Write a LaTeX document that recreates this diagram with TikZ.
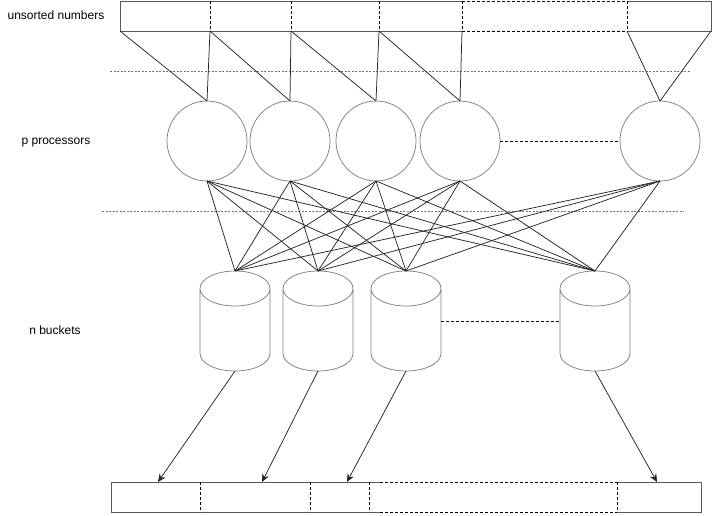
\documentclass[tikz,border=0pt]{standalone}
\usepackage{fontspec}
\setmainfont{Liberation Sans}
\usetikzlibrary{arrows.meta}

% cylinder outline round a bucket node
\newcommand{\drawbucket}[1]{%
  \draw[draw=black!50] ([yshift=-17.5pt]#1.north west) -- ([yshift=17.5pt]#1.south west)
    arc[start angle=180, end angle=360, x radius=35pt, y radius=17.5pt]
    -- ([yshift=-17.5pt]#1.north east)
    arc[start angle=0, end angle=360, x radius=35pt, y radius=17.5pt];}

\begin{document}
\begin{tikzpicture}[x=1pt, y=-1pt, line width=0.75pt,
    proc/.style={circle, draw=black!50, minimum size=80pt, inner sep=0pt, outer sep=0pt},
    bucket/.style={rectangle, minimum width=70pt, minimum height=100pt, inner sep=0pt, outer sep=0pt},
    barline/.style={draw=black!65},
    divider/.style={draw=black, dashed, dash pattern=on 3pt off 2pt},
    sep/.style={draw=black!55, line width=0.5pt, dash pattern=on 2pt off 1.5pt},
    wire/.style={draw=black!85},
    label/.style={font=\fontsize{12}{14}\selectfont, inner sep=0pt, text height=9pt, text depth=2.5pt}]
    \useasboundingbox (0,0) rectangle (712,515);

    % Labels
    \node[label] (Lnum) at (56,16) {unsorted numbers};
    \node[label] (Lproc) at (56,141) {p processors};
    \node[label] (Lbuck) at (55,331) {n buckets};

    % Input array
    \draw[barline] (462,1) -- (120,1) -- (120,31) -- (462,31);
    \draw[barline] (627,1) -- (711,1) -- (711,31) -- (627,31);
    \draw[divider] (462,1) -- (627,1);
    \draw[divider] (462,31) -- (627,31);
    \draw[divider] (210,1) -- (210,31);
    \draw[divider] (291,1) -- (291,31);
    \draw[divider] (379,1) -- (379,31);
    \draw[divider] (462,1) -- (462,31);
    \draw[divider] (627,1) -- (627,31);
    \coordinate (T0) at (120,31);
    \coordinate (T1) at (210,31);
    \coordinate (T2) at (291,31);
    \coordinate (T3) at (379,31);
    \coordinate (T4) at (462,31);
    \coordinate (T5) at (627,31);
    \coordinate (T6) at (711,31);

    % Separators
    \draw[sep] (110,71) -- (690,71);
    \draw[sep] (102,211) -- (684,211);

    % Processors
    \node[proc] (P1) at (207,141) {};
    \node[proc] (P2) at (290,141) {};
    \node[proc] (P3) at (376,141) {};
    \node[proc] (P4) at (460,141) {};
    \node[proc] (P5) at (660,141) {};
    \draw[divider] (P4.east) -- (P5.west);

    % Buckets
    \node[bucket] (B1) at (235,321) {};
    \node[bucket] (B2) at (318,321) {};
    \node[bucket] (B3) at (406,321) {};
    \node[bucket] (B4) at (595,321) {};
    \drawbucket{B1}
    \drawbucket{B2}
    \drawbucket{B3}
    \drawbucket{B4}
    \draw[divider] (B3.east) -- (B4.west);

    % Output array
    \draw[barline] (380,482) -- (111,482) -- (111,512) -- (380,512);
    \draw[barline] (617,482) -- (701,482) -- (701,512) -- (617,512);
    \draw[divider] (380,482) -- (617,482);
    \draw[divider] (380,512) -- (617,512);
    \draw[divider] (200,482) -- (200,512);
    \draw[divider] (310,482) -- (310,512);
    \draw[divider] (369,482) -- (369,512);
    \draw[divider] (617,482) -- (617,512);
    \coordinate (S1) at (158,482);
    \coordinate (S2) at (262,482);
    \coordinate (S3) at (347,482);
    \coordinate (S4) at (657,482);

    % Input to processors
    \draw[wire] (T0) -- (P1.north);
    \draw[wire] (T1) -- (P1.north);
    \draw[wire] (T1) -- (P2.north);
    \draw[wire] (T2) -- (P2.north);
    \draw[wire] (T2) -- (P3.north);
    \draw[wire] (T3) -- (P3.north);
    \draw[wire] (T3) -- (P4.north);
    \draw[wire] (T4) -- (P4.north);
    \draw[wire] (T5) -- (P5.north);
    \draw[wire] (T6) -- (P5.north);

    % Processors to buckets
    \draw[wire] (P1.south) -- (B1.north);
    \draw[wire] (P1.south) -- (B2.north);
    \draw[wire] (P1.south) -- (B3.north);
    \draw[wire] (P1.south) -- (B4.north);
    \draw[wire] (P2.south) -- (B1.north);
    \draw[wire] (P2.south) -- (B2.north);
    \draw[wire] (P2.south) -- (B3.north);
    \draw[wire] (P2.south) -- (B4.north);
    \draw[wire] (P3.south) -- (B1.north);
    \draw[wire] (P3.south) -- (B2.north);
    \draw[wire] (P3.south) -- (B3.north);
    \draw[wire] (P3.south) -- (B4.north);
    \draw[wire] (P4.south) -- (B1.north);
    \draw[wire] (P4.south) -- (B2.north);
    \draw[wire] (P4.south) -- (B3.north);
    \draw[wire] (P4.south) -- (B4.north);
    \draw[wire] (P5.south) -- (B1.north);
    \draw[wire] (P5.south) -- (B2.north);
    \draw[wire] (P5.south) -- (B3.north);
    \draw[wire] (P5.south) -- (B4.north);

    % Buckets to output
    \draw[wire, -{Stealth[length=8pt, width=7pt]}] (B1.south) -- (S1);
    \draw[wire, -{Stealth[length=8pt, width=7pt]}] (B2.south) -- (S2);
    \draw[wire, -{Stealth[length=8pt, width=7pt]}] (B3.south) -- (S3);
    \draw[wire, -{Stealth[length=8pt, width=7pt]}] (B4.south) -- (S4);
\end{tikzpicture}
\end{document}
